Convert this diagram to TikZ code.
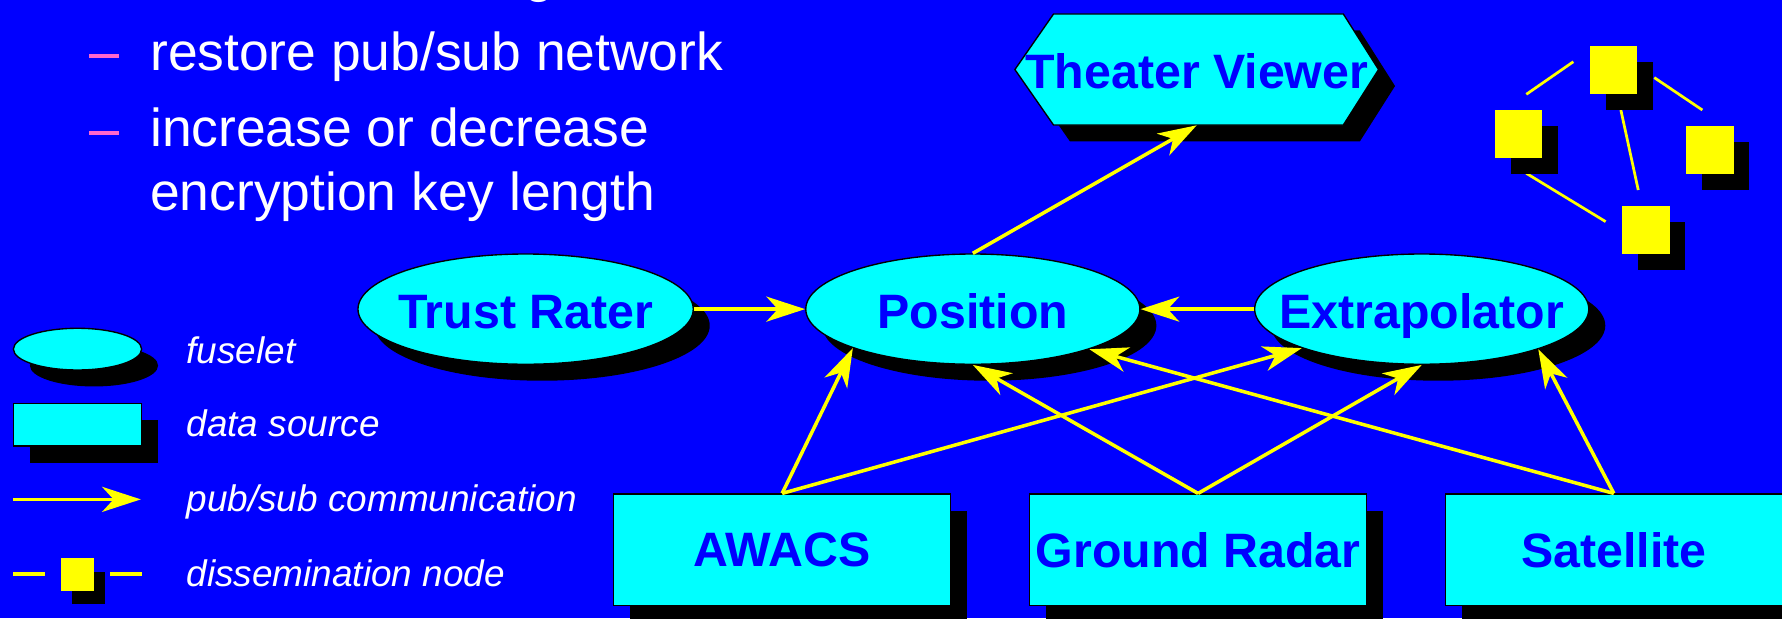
\documentclass[tikz,border=0pt]{standalone}
\usepackage{fontspec}
\setmainfont{Liberation Sans}
\usetikzlibrary{arrows.meta,shadows,shapes.geometric}
\definecolor{bg}{RGB}{0,0,255}
\definecolor{cyanfill}{RGB}{0,255,255}
\definecolor{yel}{RGB}{255,255,0}
\definecolor{pinkdash}{RGB}{255,102,204}
\begin{document}
\begin{tikzpicture}[x=1pt,y=-1pt,
  shadowed/.style={drop shadow={shadow xshift=14.5pt,shadow yshift=-14.5pt,fill=black,opacity=1}},
  fuselet/.style={ellipse,draw=black,line width=1.2pt,fill=cyanfill,inner sep=0pt,shadowed},
  source/.style={rectangle,draw=black,line width=1.2pt,fill=cyanfill,inner sep=0pt,shadowed,
     font=\fontsize{42.5}{50}\selectfont\bfseries,text=bg},
  lbl/.style={font=\fontsize{42.5}{50}\selectfont\bfseries,text=bg,inner sep=0pt,anchor=base},
  bullettext/.style={font=\fontsize{47}{56}\selectfont,text=white,anchor=base west,inner sep=0pt},
  legendtext/.style={font=\fontsize{32.5}{38}\selectfont\itshape,text=white,anchor=base west,inner sep=0pt},
  pubsub/.style={draw=yel,line width=3.1pt,-{Stealth[length=34pt,width=22pt,inset=10pt]}},
  link/.style={draw=yel,line width=2.4pt},
  dnode/.style={rectangle,fill=yel,inner sep=0pt,minimum width=41.5pt,minimum height=42pt,
     drop shadow={shadow xshift=14pt,shadow yshift=-14pt,fill=black,opacity=1}},
  bulletdash/.style={draw=pinkdash,line width=3.3pt}
]
\useasboundingbox (0,0) rectangle (1568,544);
\clip (0,0) rectangle (1568,544);
\fill[bg] (0,0) rectangle (1568,544);

% title fragment (cut off at top, as in the original)
\node[bullettext] (titlefrag) at (461,-7.3) {g};

% bullets
\draw[bulletdash] (78.6,49) -- (104.7,49);
\node[bullettext] (b1) at (132,61.6) {restore pub/sub network};
\draw[bulletdash] (78.6,117) -- (104.7,117);
\node[bullettext] (b2) at (132,128.5) {increase or decrease};
\node[bullettext] (b3) at (132,185) {encryption key length};

% Theater Viewer hexagon
\fill[black] (907.5,75.7) -- (941.5,26.8) -- (1196.5,26.8) -- (1227.5,75.7) -- (1196.5,124.5) -- (941.5,124.5) -- cycle;
\filldraw[fill=cyanfill,draw=black,line width=1.2pt] (893,61.2) -- (927,12.3) -- (1182,12.3) -- (1213,61.2) -- (1182,110) -- (927,110) -- cycle;
\node[rectangle,inner sep=0pt,minimum width=320pt,minimum height=97.7pt] (tv) at (1053,61.2) {};
\node[lbl] (tvlbl) at (1053,77.7) {Theater Viewer};

% dissemination network
\coordinate (la1) at (1343,83);   \coordinate (la2) at (1384.4,54.3);
\coordinate (lb1) at (1455.6,68.3); \coordinate (lb2) at (1497.9,96.8);
\coordinate (lc1) at (1426.2,96.8); \coordinate (lc2) at (1441.5,167.2);
\coordinate (ld1) at (1343,152.5); \coordinate (ld2) at (1412.8,195);
\draw[link] (la1) -- (la2);
\draw[link] (lb1) -- (lb2);
\draw[link] (lc1) -- (lc2);
\draw[link] (ld1) -- (ld2);
\node[dnode] (dtop) at (1420,61.6) {};
\node[dnode] (dleft) at (1335.9,117.9) {};
\node[dnode] (dright) at (1504.6,132) {};
\node[dnode] (dbottom) at (1448.3,202.4) {};

% fuselets
\node[fuselet,minimum width=295pt,minimum height=97pt] (trust) at (462.5,272) {};
\node[fuselet,minimum width=294pt,minimum height=97pt] (pos) at (856,272) {};
\node[fuselet,minimum width=294pt,minimum height=97pt] (extra) at (1251,272) {};
\node[lbl] (trustlbl) at (462.5,289) {Trust Rater};
\node[lbl] (poslbl) at (856,289) {Position};
\node[lbl] (extralbl) at (1251,289) {Extrapolator};

% data sources
\node[source,minimum width=296.4pt,minimum height=98.3pt] (awacs) at (688.2,483.9) {AWACS};
\node[source,minimum width=296.4pt,minimum height=98.3pt] (radar) at (1054.2,483.9) {Ground Radar};
\node[source,minimum width=296.4pt,minimum height=98.3pt] (sat) at (1420,483.9) {Satellite};

% pub/sub arrows
\draw[pubsub] (trust.east) -- (pos.west);
\draw[pubsub] (extra.west) -- (pos.east);
\draw[pubsub] (pos.north) -- (tv.south);
\draw[pubsub] (awacs.north) -- (pos.198.8);
\draw[pubsub] (awacs.north) -- (extra.198.7);
\draw[pubsub] (radar.north) -- (pos.south);
\draw[pubsub] (radar.north) -- (extra.south);
\draw[pubsub] (sat.north) -- (pos.341.6);
\draw[pubsub] (sat.north) -- (extra.341);

% legend
\node[fuselet,minimum width=112.8pt,minimum height=36.7pt] (legfus) at (68.2,307.2) {};
\node[legendtext] (legfustxt) at (164,319.5) {fuselet};
\node[source,minimum width=112.8pt,minimum height=37.6pt] (legsrc) at (68.2,373.7) {};
\node[legendtext] (legsrctxt) at (164,384) {data source};
\coordinate (lar1) at (11.8,439.4); \coordinate (lar2) at (123.9,439.4);
\draw[pubsub] (lar1) -- (lar2);
\node[legendtext] (legpubtxt) at (164,450) {pub/sub communication};
\coordinate (ldl1) at (11.8,505); \coordinate (ldl2) at (39.8,505);
\coordinate (ldr1) at (96.6,505); \coordinate (ldr2) at (124.6,505);
\draw[link,line width=3pt] (ldl1) -- (ldl2);
\draw[link,line width=3pt] (ldr1) -- (ldr2);
\node[rectangle,fill=yel,inner sep=0pt,minimum width=28.9pt,minimum height=28.5pt,
  drop shadow={shadow xshift=9.5pt,shadow yshift=-11.7pt,fill=black,opacity=1}] (legdn) at (68.35,505.5) {};
\node[legendtext] (legdntxt) at (164,516) {dissemination node};
\end{tikzpicture}
\end{document}
